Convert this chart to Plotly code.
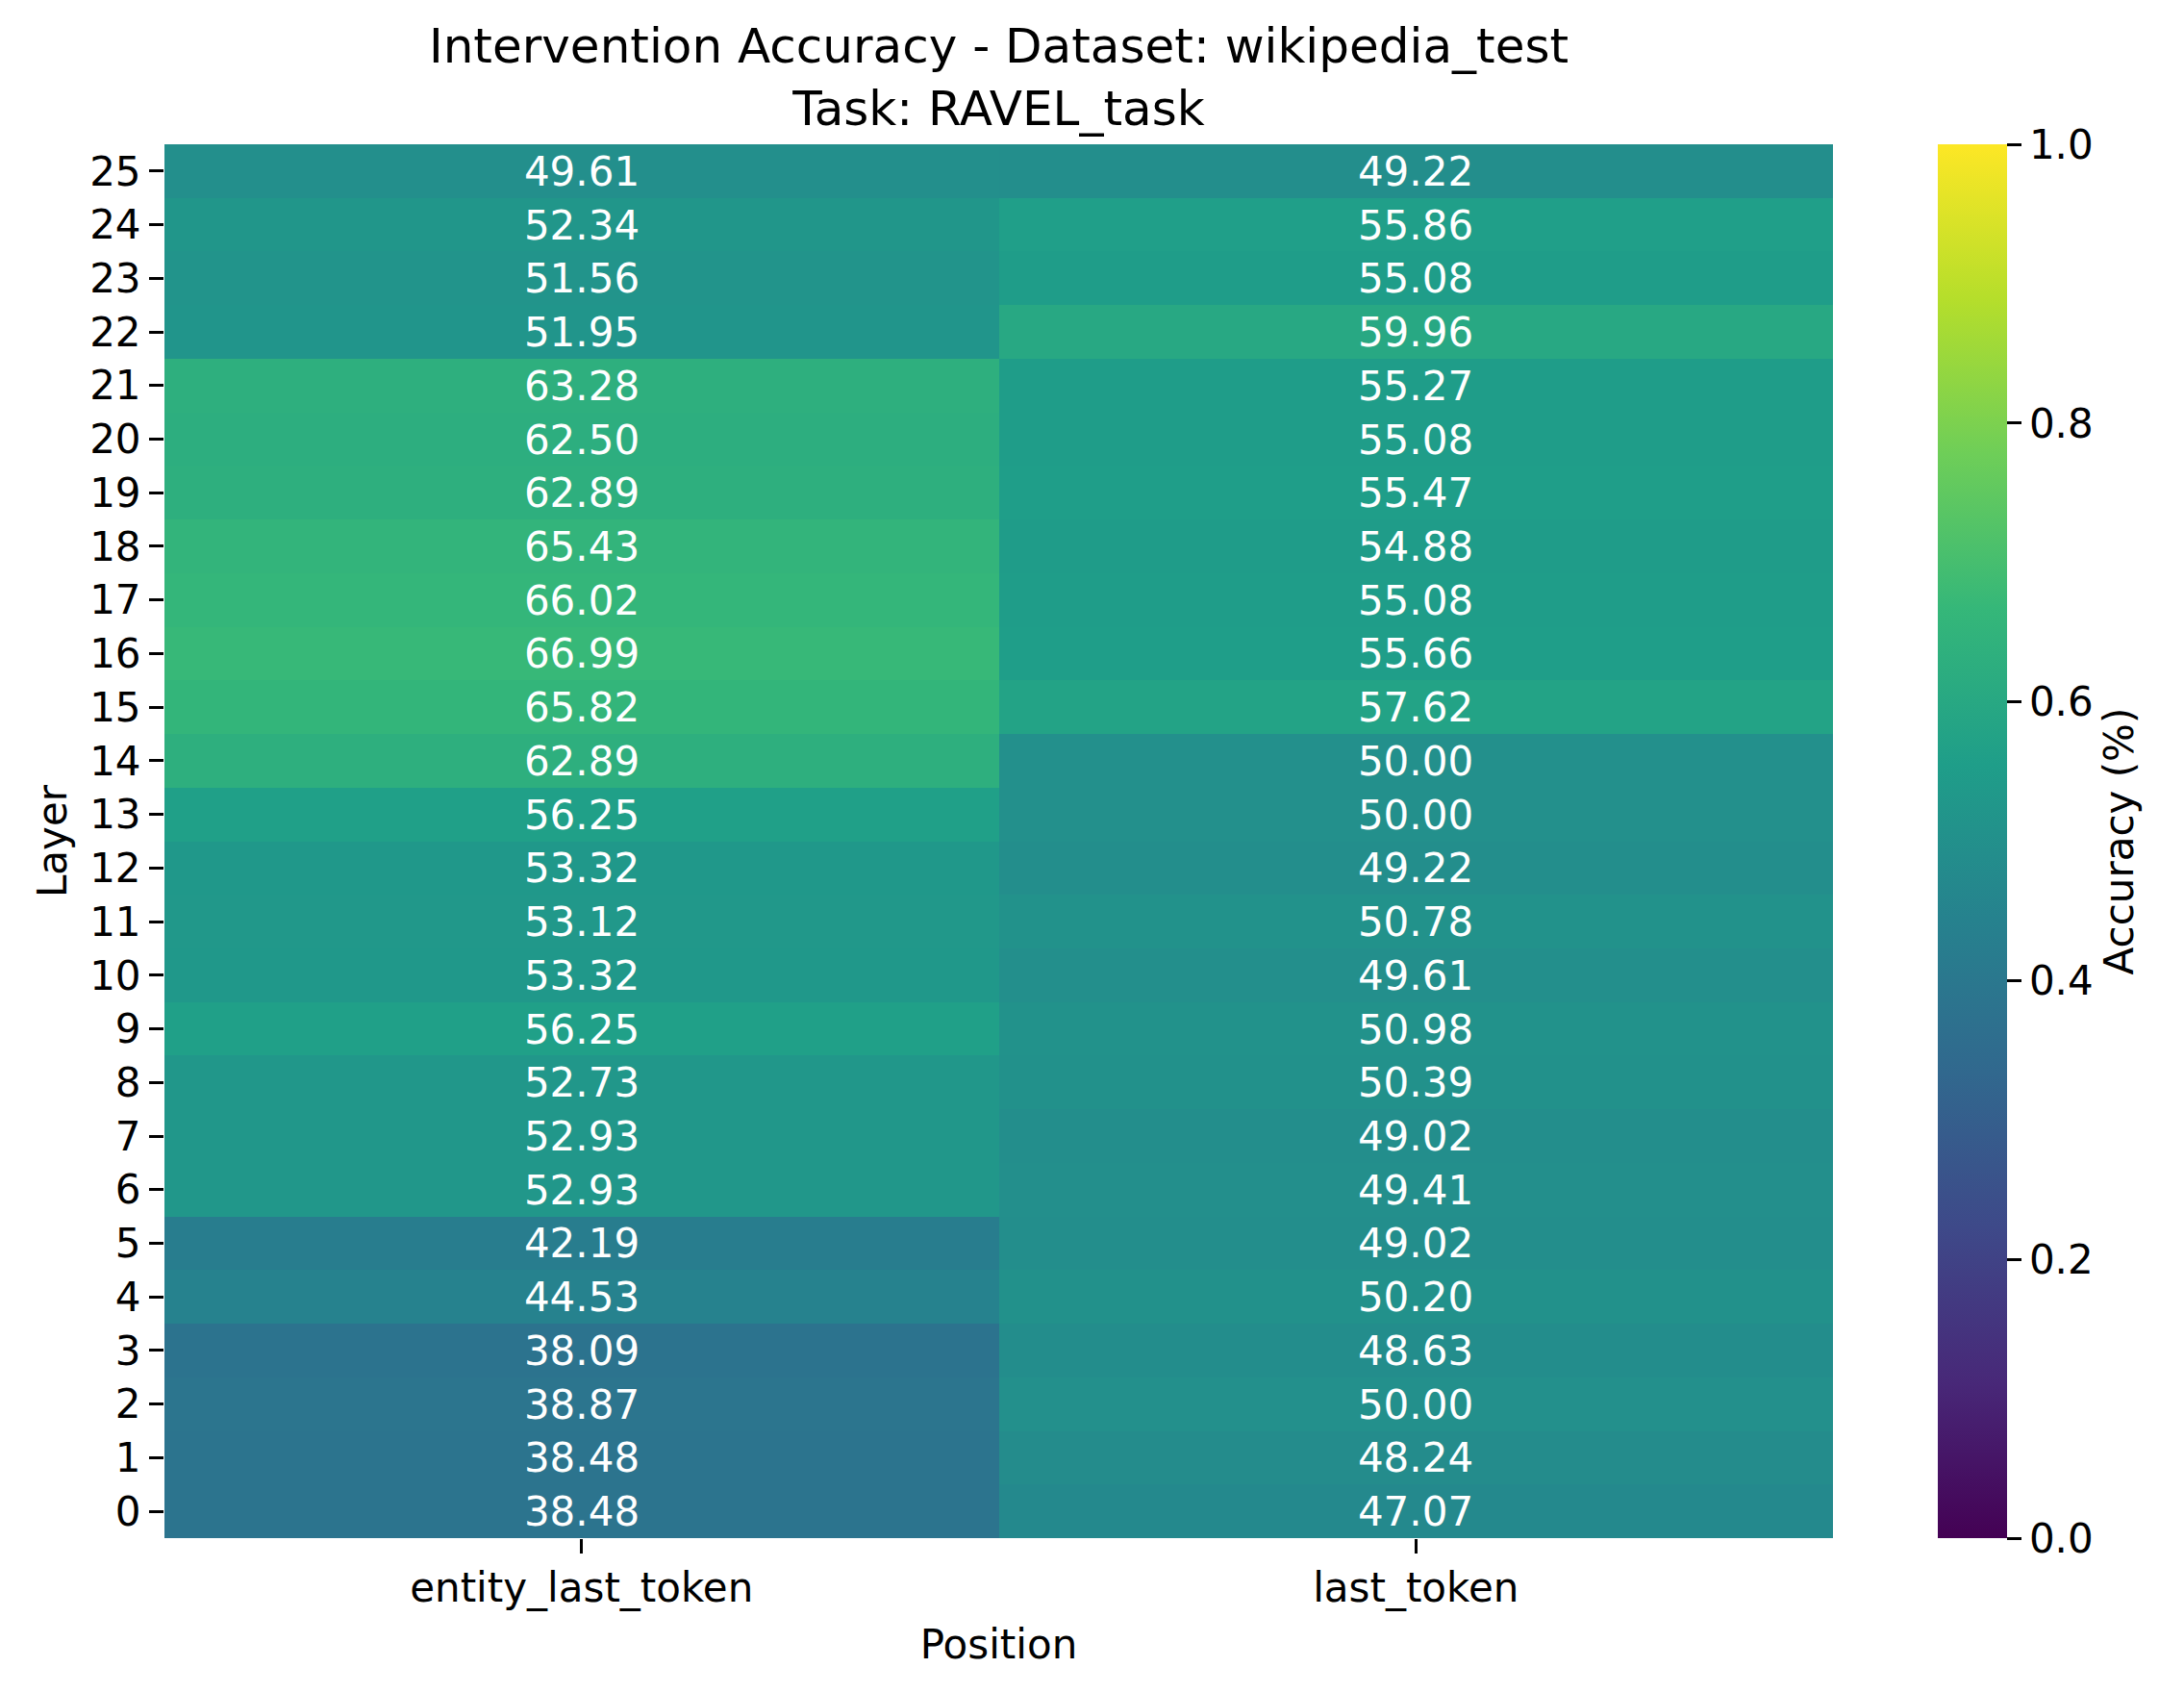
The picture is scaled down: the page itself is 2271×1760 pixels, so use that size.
import plotly.graph_objects as go

layers = list(range(26))
positions = ["entity_last_token", "last_token"]

# accuracy in percent, layer 0 .. 25
entity_last_token = [38.48, 38.48, 38.87, 38.09, 44.53, 42.19, 52.93, 52.93, 52.73, 56.25,
                     53.32, 53.12, 53.32, 56.25, 62.89, 65.82, 66.99, 66.02, 65.43, 62.89,
                     62.50, 63.28, 51.95, 51.56, 52.34, 49.61]
last_token = [47.07, 48.24, 50.00, 48.63, 50.20, 49.02, 49.41, 49.02, 50.39, 50.98,
              49.61, 50.78, 49.22, 50.00, 50.00, 57.62, 55.66, 55.08, 54.88, 55.47,
              55.08, 55.27, 59.96, 55.08, 55.86, 49.22]

z = [[a / 100, b / 100] for a, b in zip(entity_last_token, last_token)]
text = [[f"{a:.2f}", f"{b:.2f}"] for a, b in zip(entity_last_token, last_token)]

W, H = 2271, 1760
FONT = "DejaVu Sans"
OFF = 8  # page body margin

fig = go.Figure(go.Heatmap(
    z=z, x=positions, y=layers, text=text, texttemplate="%{text}",
    textfont=dict(size=42, color="white", family=FONT),
    colorscale="Viridis", zmin=0, zmax=1,
    colorbar=dict(
        xref="container", x=(2015 - OFF) / W, xanchor="left", xpad=0, ypad=0,
        thickness=72, lenmode="pixels", len=1449, y=0.5, yanchor="middle",
        outlinewidth=0, ticks="outside", ticklen=15, tickwidth=3, tickcolor="black",
        tickvals=[0, 0.2, 0.4, 0.6, 0.8, 1.0], ticktext=["0.0", "0.2", "0.4", "0.6", "0.8", "1.0"],
        tickfont=dict(size=42, family=FONT, color="black"),
        title=dict(text="Accuracy (%)", side="right", font=dict(size=42, family=FONT, color="black")),
    ),
))

fig.update_layout(
    width=W, height=H,
    margin=dict(l=171 - OFF, r=W - 1906 + OFF, t=150 - OFF, b=H - 1599 + OFF),
    paper_bgcolor="white", plot_bgcolor="white",
    font=dict(family=FONT, color="black"),
    title=dict(text="Intervention Accuracy - Dataset: wikipedia_test<br>Task: RAVEL_task",
               x=((171 + 1906) / 2 - OFF) / W, xanchor="center",
               yref="container", y=1 - 57 / H, yanchor="middle",
               font=dict(size=50, family=FONT, color="black")),
)
fig.update_xaxes(
    title=dict(text="Position", font=dict(size=42), standoff=20),
    ticks="outside", ticklen=15, tickwidth=3, tickcolor="black",
    tickfont=dict(size=42), showgrid=False, zeroline=False, automargin=False,
)
fig.update_yaxes(
    title=dict(text="Layer", font=dict(size=42), standoff=10),
    tickvals=layers, range=[-0.5, 25.5],
    ticks="outside", ticklen=15, tickwidth=3, tickcolor="black",
    tickfont=dict(size=42), showgrid=False, zeroline=False, automargin=False,
)

fig.write_html("out.html")
